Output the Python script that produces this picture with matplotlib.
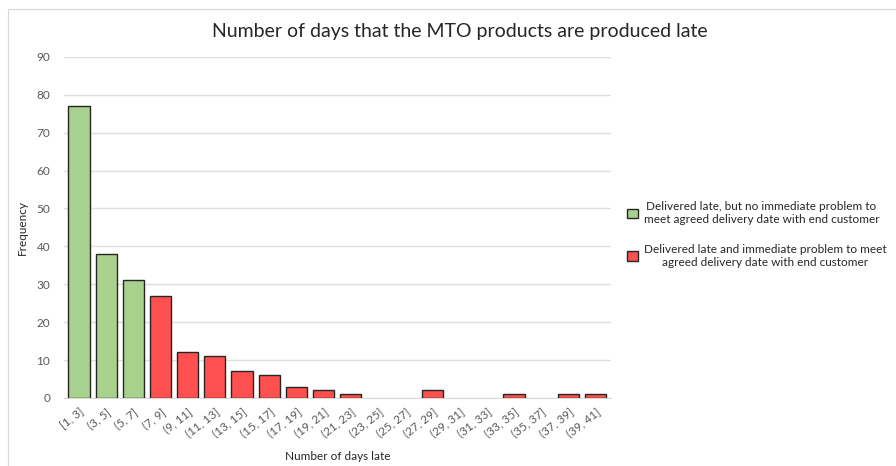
import numpy as np
import matplotlib.pyplot as plt
from matplotlib.patches import Patch, Rectangle

# bins and counts
bins = ["[1, 3]", "(3, 5]", "(5, 7]", "(7, 9]", "(9, 11]", "(11, 13]", "(13, 15]",
        "(15, 17]", "(17, 19]", "(19, 21]", "(21, 23]", "(23, 25]", "(25, 27]",
        "(27, 29]", "(29, 31]", "(31, 33]", "(33, 35]", "(35, 37]", "(37, 39]", "(39, 41]"]
counts = [77, 38, 31, 27, 12, 11, 7, 6, 3, 2, 1, 0, 0, 2, 0, 0, 1, 0, 1, 1]
no_problem = [True, True, True] + [False] * 17

green = "#A9D18E"
red = "#FF5050"
txt = "#595959"

plt.rcParams['font.family'] = ['Lato', 'DejaVu Sans']

fig = plt.figure(figsize=(8.96, 4.66), dpi=100)
ax = fig.add_axes([0.0714, 0.146, 0.61, 0.732])

# outer chart border
fig.patches.append(Rectangle((0.009, -0.01), 1.0, 0.99, transform=fig.transFigure,
                             fill=False, edgecolor="#D9D9D9", linewidth=0.8))

x = np.arange(len(bins))
colors = [green if g else red for g in no_problem]
# empty bins get no outline, as in the original
edges = ["#262626" if c > 0 else "none" for c in counts]
ax.bar(x, counts, width=0.78, color=colors, edgecolor=edges, linewidth=1.0, zorder=3)

ax.set_ylim(0, 90)
ax.set_xlim(-0.55, len(bins) - 0.45)
ax.set_yticks(range(0, 91, 10))
ax.yaxis.grid(True, color="#E0E0E0", linewidth=1.0, zorder=0)
for s in ["top", "right", "left"]:
    ax.spines[s].set_visible(False)
ax.spines["bottom"].set_color("#D9D9D9")
ax.tick_params(axis="both", length=0, colors=txt, labelsize=8.5)
ax.tick_params(axis="y", pad=10)
ax.tick_params(axis="x", pad=6)
ax.set_xticks(x)
ax.set_xticklabels(bins, rotation=38, ha="right", rotation_mode="anchor")

fig.text(0.513, 0.933, "Number of days that the MTO products are produced late",
         fontsize=14, color="#262626", ha="center", va="center")
ax.set_xlabel("Number of days late", fontsize=8.5, color="#262626", labelpad=8)
ax.set_ylabel("Frequency", fontsize=8.5, color="#262626", labelpad=6)

handles = [Patch(facecolor=green, edgecolor="#262626"),
           Patch(facecolor=red, edgecolor="#262626")]
labels = ["Delivered late, but no immediate problem to\nmeet agreed delivery date with end customer",
          "Delivered late and immediate problem to meet\nagreed delivery date with end customer"]
leg = fig.legend(handles, labels, loc="center left", bbox_to_anchor=(0.688, 0.497),
                 frameon=False, fontsize=8.5, labelcolor="#262626",
                 handlelength=0.9, handleheight=0.9, handletextpad=0.5, labelspacing=1.6)
for t in leg.get_texts():
    t.set_multialignment("center")

fig.savefig("out.png", dpi=100)
